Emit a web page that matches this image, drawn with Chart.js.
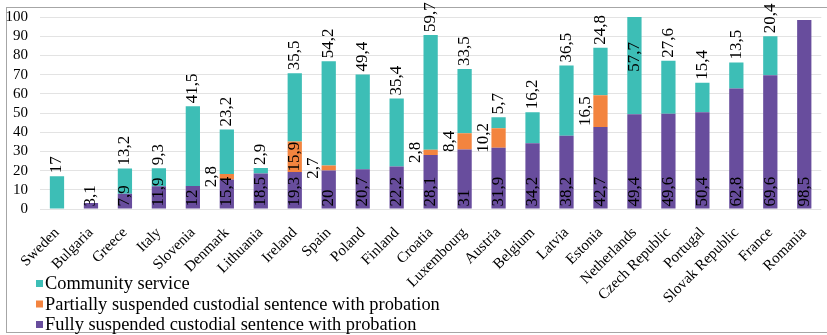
<!DOCTYPE html>
<html>
<head>
<meta charset="utf-8">
<script src="https://cdn.jsdelivr.net/npm/chart.js@4/dist/chart.umd.min.js"></script>
<style>
  html, body { margin: 0; padding: 0; background: #fff; overflow: hidden; }
  #wrap { position: absolute; left: 0; top: 0; width: 832px; height: 335px; }
</style>
</head>
<body>
<div id="wrap"><canvas id="chart"></canvas></div>
<script>
const countries = ['Sweden', 'Bulgaria', 'Greece', 'Italy', 'Slovenia', 'Denmark', 'Lithuania',
  'Ireland', 'Spain', 'Poland', 'Finland', 'Croatia', 'Luxembourg', 'Austria', 'Belgium',
  'Latvia', 'Estonia', 'Netherlands', 'Czech Republic', 'Portugal', 'Slovak Republic',
  'France', 'Romania'];

const fullySuspended = [0, 3.1, 7.9, 11.9, 12, 15.4, 18.5, 19.3, 20, 20.7, 22.2, 28.1, 31,
  31.9, 34.2, 38.2, 42.7, 49.4, 49.6, 50.4, 62.8, 69.6, 98.5];

const partiallySuspended = [0, 0, 0, 0, 0, 2.8, 0, 15.9, 2.7, 0, 0, 2.8, 8.4, 10.2, 0, 0,
  16.5, 0, 0, 0, 0, 0, 0];

const communityService = [17, 0, 13.2, 9.3, 41.5, 23.2, 2.9, 35.5, 54.2, 49.4, 35.4, 59.7,
  33.5, 5.7, 16.2, 36.5, 24.8, 57.7, 27.6, 15.4, 13.5, 20.4, 0];

const yTicks = [0, 10, 20, 30, 40, 50, 60, 70, 80, 90, 100];

const seriesNames = ['Fully suspended custodial sentence with probation',
  'Partially suspended custodial sentence with probation',
  'Community service'];

const COLORS = { fully: '#684d9d', partial: '#f3843f', community: '#3dbeb6' };
const SERIF = '"Liberation Serif", "Times New Roman", serif';

// orange segments whose value is written inside the bar instead of beside it
const partialInside = new Set(['Ireland']);

const fmt = v => String(v).replace('.', ',');

const frame = {
  id: 'frame',
  beforeDraw(chart) {
    const c = chart.ctx;
    c.save();
    c.strokeStyle = '#a6a6a6';
    c.lineWidth = 1;
    c.strokeRect(6.5, 7.5, chart.width + 20, 325);
    c.restore();
  }
};

const valueLabels = {
  id: 'valueLabels',
  afterDatasetsDraw(chart) {
    const c = chart.ctx;
    const area = chart.chartArea;
    const yMax = chart.scales.y.max;
    c.save();
    c.fillStyle = '#000';
    c.font = 'normal normal 17px ' + SERIF;
    c.textBaseline = 'middle';
    const draw = (text, x, y, align) => {
      c.save();
      c.translate(x, y);
      c.rotate(-Math.PI / 2);
      c.textAlign = align;
      c.fillText(text, 0, 0);
      c.restore();
    };
    chart.data.datasets.forEach((ds, di) => {
      const meta = chart.getDatasetMeta(di);
      meta.data.forEach((el, i) => {
        const v = ds.data[i];
        if (!v) return;
        const t = fmt(v);
        if (ds.key === 'fully') {
          draw(t, el.x, el.base - 2, 'left');
        } else if (ds.key === 'partial') {
          const cy = (el.y + el.base) / 2;
          const x = partialInside.has(countries[i]) ? el.x : el.x - 15;
          draw(t, x, cy, 'center');
        } else {
          const total = fullySuspended[i] + partiallySuspended[i] + communityService[i];
          let start = el.y - 3;
          if (total > yMax) start = area.top + 25 + c.measureText(t).width;
          draw(t, el.x, start, 'left');
        }
      });
    });
    c.restore();
  }
};

const legendBox = {
  id: 'legendBox',
  afterDraw(chart) {
    const c = chart.ctx;
    c.save();
    c.font = 'normal normal 18.4px ' + SERIF;
    c.textBaseline = 'middle';
    c.textAlign = 'left';
    const items = chart.data.datasets.slice().reverse();
    items.forEach((ds, k) => {
      const cy = 283.5 + k * 20.5;
      c.fillStyle = ds.backgroundColor;
      c.fillRect(36, cy - 3.5, 7, 7);
      c.fillStyle = '#000';
      c.fillText(ds.label, 45, cy + 1);
    });
    c.restore();
  }
};

new Chart(document.getElementById('chart'), {
  type: 'bar',
  data: {
    labels: countries,
    datasets: [
      { key: 'fully', label: seriesNames[0], data: fullySuspended, backgroundColor: COLORS.fully },
      { key: 'partial', label: seriesNames[1], data: partiallySuspended, backgroundColor: COLORS.partial },
      { key: 'community', label: seriesNames[2], data: communityService, backgroundColor: COLORS.community }
    ]
  },
  options: {
    responsive: true,
    maintainAspectRatio: false,
    animation: false,
    devicePixelRatio: 1,
    layout: { padding: { top: 17, left: 0, right: 0, bottom: 0 } },
    datasets: { bar: { categoryPercentage: 1, barPercentage: 0.42 } },
    plugins: { legend: { display: false }, tooltip: { enabled: false }, title: { display: false } },
    scales: {
      x: {
        stacked: true,
        grid: { display: false, drawTicks: false },
        border: { display: false },
        ticks: {
          autoSkip: false, minRotation: 45, maxRotation: 45, padding: 15,
          color: '#000', font: { family: SERIF, size: 15 }
        },
        afterFit(scale) { scale.height = 126; }
      },
      y: {
        stacked: true,
        min: 0, max: 100,
        afterBuildTicks(scale) { scale.ticks = yTicks.map(v => ({ value: v })); },
        grid: { color: '#e3e3e3', lineWidth: 1, drawTicks: false },
        border: { display: false },
        ticks: { autoSkip: false, padding: 12, color: '#000', font: { family: SERIF, size: 15 } },
        afterFit(scale) {
          scale.width = 40;
          scale.paddingTop = 0;
          scale.paddingBottom = 0;
        }
      }
    }
  },
  plugins: [frame, valueLabels, legendBox]
});
</script>
</body>
</html>
